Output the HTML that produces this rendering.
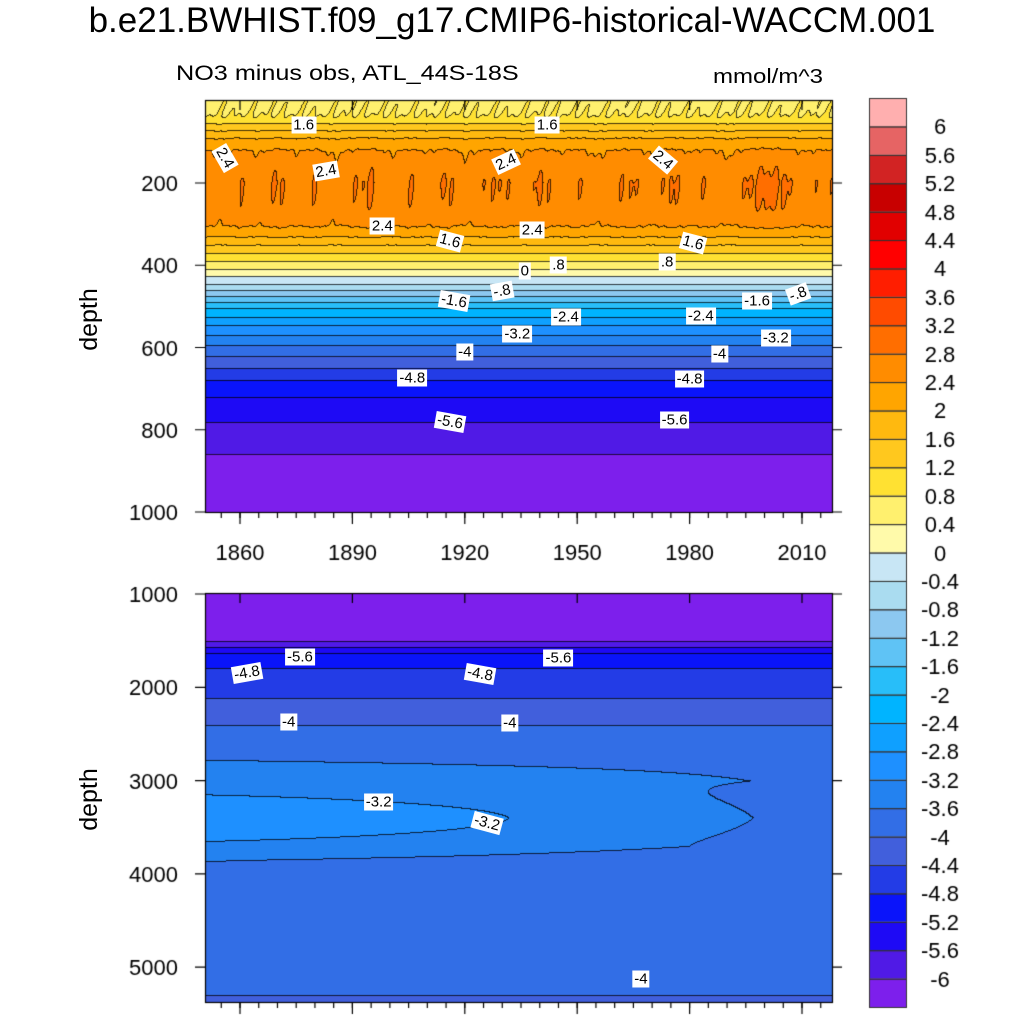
<!DOCTYPE html>
<html><head><meta charset="utf-8"><style>
body{margin:0;background:#fff;width:1024px;height:1024px;overflow:hidden;font-family:"Liberation Sans",sans-serif}
#wrap{position:relative;width:1024px;height:1024px}
canvas{position:absolute;left:0;top:0}
.t{position:absolute;white-space:nowrap;color:#000}
.lab{position:absolute;background:#fff;font-size:15px;padding:0 2px;line-height:17px;transform:translate(-50%,-50%)}
</style></head><body>
<div id="wrap">
<canvas id="cv" width="1024" height="1024"></canvas>
<div class="t" style="left:0;width:1024px;text-align:center;top:1px;font-size:35px">b.e21.BWHIST.f09_g17.CMIP6-historical-WACCM.001</div>
<div class="t" style="left:176px;top:62px;font-size:21px;transform:scale(1.2,1);transform-origin:0 0">NO3 minus obs, ATL_44S-18S</div>
<div class="t" style="left:713px;top:66px;font-size:20px;transform:scale(1.2,1);transform-origin:0 0">mmol/m^3</div>
<div class="t" style="left:58px;top:305px;font-size:25px;transform:rotate(-90deg)">depth</div>
<div class="t" style="left:58px;top:785px;font-size:25px;transform:rotate(-90deg)">depth</div>
<div id="labels"></div>
</div>
<script>
// ---- data ----
const colors=["#7d1fec","#501ae6","#1e0af5","#0a14fa","#233ce6","#415fdc","#326ee6","#2382f0","#1e90ff","#0fa0ff","#00b4ff","#28bef9","#5fc3f5","#8cc8f0","#aadcf0","#c8e6f5",
"#fffaaa","#fff06e","#ffe132","#ffc81e","#ffb90f","#ffa500","#ff8c00","#ff6e00","#ff4b00","#ff1e00","#ff0000","#e10000","#c80000","#d22323","#e66464","#ffafaf"];
const barLabels=["-6","-5.6","-5.2","-4.8","-4.4","-4","-3.6","-3.2","-2.8","-2.4","-2","-1.6","-1.2","-0.8","-0.4","0","0.4","0.8","1.2","1.6","2","2.4","2.8","3.2","3.6","4","4.4","4.8","5.2","5.6","6"];
const upDepths=[0,40,55,72,90,120,160,200,260,300,320,345,370,390,410,425,445,460,475,490,505,525,545,570,595,620,650,680,720,780,860,1000];
const upVals=[0.7,0.82,1.2,1.6,2.0,2.4,2.6,2.7,2.65,2.45,2.2,1.7,1.2,0.8,0.4,0.0,-0.4,-0.8,-1.2,-1.6,-2.0,-2.4,-2.8,-3.2,-3.6,-4.0,-4.4,-4.8,-5.2,-5.6,-6.0,-6.2];
const loDepths=[1000,1480,1540,1580,1650,1750,1950,2200,2400,2600,2750,3000,3400,3700,3850,4300,4800,5200,5400];
const loVals=[-6.3,-6.05,-5.9,-5.5,-5.1,-4.85,-4.6,-4.3,-4.0,-3.85,-3.62,-3.45,-3.4,-3.45,-3.62,-3.75,-3.85,-3.95,-4.05];
const anomYears=[1850,1855,1860,1865,1870,1875,1880,1885,1890,1895,1900,1905,1910,1915,1920,1925,1930,1935,1940,1945,1950,1955,1960,1965,1970,1975,1980,1985,1990,1995,2000,2005,2010,2015];
const anomVals=[0.1,-0.3,0.2,-0.2,0.3,-0.1,0.2,-0.3,0.1,0.3,-0.2,0.2,-0.1,0.3,-0.3,0.1,0.2,-0.2,0.3,-0.1,0.2,-0.3,0.1,0.2,-0.2,0.3,-0.1,0.2,-0.3,0.2,0.4,0.3,-0.1,0.1];
const xTicks=[1860,1890,1920,1950,1980,2010];
const yTicksTop=[200,400,600,800,1000];
const yTicksBot=[1000,2000,3000,4000,5000];
// ---- axes ----
const P1={x0:205,x1:832,y0:100,y1:512}, P2={x0:205,x1:832,y0:593,y1:1002};
const xs=y=>240+(y-1860)*3.7467, xinv=px=>1860+(px-240)/3.7467;
const ys1=d=>100.75+d*0.41125, ys1inv=py=>(py-100.75)/0.41125;
const ys2=d=>594+(d-1000)*0.0933, ys2inv=py=>1000+(py-594)/0.0933;
function interp(xa,ya,x){if(x<=xa[0])return ya[0];for(let i=1;i<xa.length;i++){if(x<=xa[i]){const t=(x-xa[i-1])/(xa[i]-xa[i-1]);return ya[i-1]+t*(ya[i]-ya[i-1]);}}return ya[ya.length-1];}
function fUp(yr,d){const w=Math.exp(-Math.pow((d-210)/90,2));const wt=Math.exp(-Math.pow(d/30,2));
 const a=0.55*interp(anomYears,anomVals,yr)+0.1*Math.sin(yr*2.3+d*0.02)*Math.cos(yr*0.61);
 return interp(upDepths,upVals,d)+a*w+wt*0.15*Math.sin(yr*1.9+d*0.1)*Math.cos(yr*0.43);}
function fLo(yr,d){const g=Math.exp(-Math.pow((d-3400)/450,2)),gb=Math.exp(-Math.pow((d-3400)/260,2));
 return interp(loDepths,loVals,d)-0.0025*(yr-1850)*g+0.6*Math.exp(-Math.pow((yr-1850)/130,2))*gb;}
function lev(v){return Math.max(0,Math.min(31,Math.floor((v+6)/0.4+1e-9)+1));}
const cv=document.getElementById('cv'),ctx=cv.getContext('2d');
function drawPlot(P,f,yinv){
 const W=P.x1-P.x0,H=P.y1-P.y0;const img=ctx.createImageData(W,H);const L=new Int8Array(W*H);
 for(let i=0;i<W;i++){const yr=xinv(P.x0+i+0.5);for(let j=0;j<H;j++){L[j*W+i]=lev(f(yr,yinv(P.y0+j+0.5)));}}
 for(let i=0;i<W;i++)for(let j=0;j<H;j++){const k=L[j*W+i];let c=colors[k];
  let edge=(j>0&&L[(j-1)*W+i]!==k)||(i>0&&L[j*W+i-1]!==k);
  const r=parseInt(c.substr(1,2),16),g=parseInt(c.substr(3,2),16),b=parseInt(c.substr(5,2),16);const o=(j*W+i)*4;
  if(edge){img.data[o]=r*0.25;img.data[o+1]=g*0.25;img.data[o+2]=b*0.25;}else{img.data[o]=r;img.data[o+1]=g;img.data[o+2]=b;}img.data[o+3]=255;}
 ctx.putImageData(img,P.x0,P.y0);
 ctx.strokeStyle='#000';ctx.lineWidth=1.2;ctx.strokeRect(P.x0+0.5,P.y0+0.5,W,H);
}
drawPlot(P1,fUp,ys1inv);drawPlot(P2,fLo,ys2inv);
ctx.fillStyle='#000';ctx.font='22px "Liberation Sans",sans-serif';ctx.lineWidth=1.2;ctx.strokeStyle='#000';
xTicks.forEach(y=>{const x=xs(y);[P1,P2].forEach(P=>{ctx.beginPath();ctx.moveTo(x,P.y1);ctx.lineTo(x,P.y1+12);ctx.moveTo(x,P.y0);ctx.lineTo(x,P.y0+10);ctx.stroke();});
 ctx.textAlign='center';ctx.fillText(String(y),x,560);});
for(let y=1855;y<=2015;y+=5){const x=xs(y);[P1,P2].forEach(P=>{ctx.beginPath();ctx.moveTo(x,P.y1);ctx.lineTo(x,P.y1+6);ctx.stroke();});}
ctx.textAlign='right';
yTicksTop.forEach(d=>{const y=ys1(d);ctx.beginPath();ctx.moveTo(P1.x0-10,y);ctx.lineTo(P1.x0,y);ctx.moveTo(P1.x1,y);ctx.lineTo(P1.x1+10,y);ctx.stroke();ctx.fillText(String(d),178,y+8);});
yTicksBot.forEach(d=>{const y=ys2(d);ctx.beginPath();ctx.moveTo(P2.x0-10,y);ctx.lineTo(P2.x0,y);ctx.moveTo(P2.x1,y);ctx.lineTo(P2.x1+10,y);ctx.stroke();ctx.fillText(String(d),178,y+8);});
// colorbar
const cb={x:869,w:37,top:98,bot:1007};const bh=(cb.bot-cb.top)/32;
for(let k=0;k<32;k++){const y=cb.bot-(k+1)*bh;ctx.fillStyle=colors[k];ctx.fillRect(cb.x,y,cb.w,bh);ctx.strokeStyle='#333';ctx.lineWidth=1;ctx.strokeRect(cb.x+0.5,y+0.5,cb.w,bh);}
ctx.fillStyle='#000';ctx.textAlign='center';ctx.font='22px "Liberation Sans",sans-serif';
barLabels.forEach((s,i)=>{ctx.fillText(s,940,cb.bot-(i+1)*bh+8);});
// contour labels
const labs=[["1.6",1877,60,0],["1.6",1942,60,0],["2.4",1856,140,60],["2.4",1883,170,-10],["2.4",1931,150,-25],["2.4",1973,145,40],
["2.4",1898,305,0],["1.6",1916,340,15],["2.4",1938,315,0],["1.6",1981,345,15],["0",1936,415,0],[".8",1945,400,0],[".8",1974,393,0],
["-1.6",1917,487,10],["-.8",1930,462,-10],["-2.4",1947,525,0],["-2.4",1983,523,0],["-1.6",1998,487,0],["-.8",2009,470,-20],
["-3.2",1934,567,0],["-3.2",2003,577,0],["-4",1920,612,0],["-4",1988,617,0],["-4.8",1906,675,0],["-4.8",1980,677,0],["-5.6",1916,780,10],["-5.6",1976,777,0]];
const labsLo=[["-5.6",1876,1680,0],["-5.6",1945,1690,0],["-4.8",1862,1850,-10],["-4.8",1924,1860,10],["-4",1873,2370,0],["-4",1932,2380,0],
["-3.2",1897,3230,0],["-3.2",1926,3450,15],["-4",1967,5130,0]];
const LD=document.getElementById('labels');
function addLab(a,ysf){const d=document.createElement('div');d.className='lab';d.textContent=a[0];
 
 
 d.style.left=xs(a[1])+'px';d.style.top=ysf(a[2])+'px';d.style.transform='translate(-50%,-50%) rotate('+a[3]+'deg)';LD.appendChild(d);}
labs.forEach(a=>addLab(a,ys1));labsLo.forEach(a=>addLab(a,ys2));
</script>
</body></html>
